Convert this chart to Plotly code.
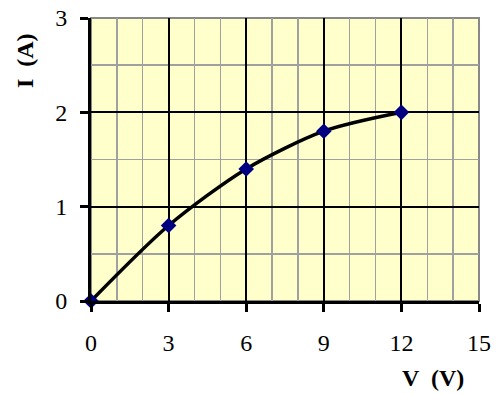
import plotly.graph_objects as go

voltage = [0, 3, 6, 9, 12]
current = [0, 0.8, 1.4, 1.8, 2.0]
x_ticks = [0, 3, 6, 9, 12, 15]
y_ticks = [0, 1, 2, 3]

fig = go.Figure()
fig.add_trace(go.Scatter(
    x=voltage, y=current, mode="lines",
    line=dict(color="black", width=3.5, shape="spline", smoothing=0.8),
    hoverinfo="skip", showlegend=False,
))
fig.add_trace(go.Scatter(
    x=voltage, y=current, mode="markers",
    marker=dict(symbol="diamond", color="#000080", size=12),
    cliponaxis=False, showlegend=False,
))

family = "Liberation Serif, Times New Roman, serif"
font = dict(family=family, size=24, color="black")

fig.update_layout(
    width=500, height=394,
    margin=dict(l=91, r=21, t=18, b=93, autoexpand=False),
    paper_bgcolor="white", plot_bgcolor="#FFFFCC",
    font=font,
    shapes=[dict(type="rect", xref="paper", yref="paper", x0=0, y0=0, x1=1, y1=1,
                 line=dict(color="#888888", width=2), layer="below")],
    annotations=[
        dict(text="<b>I  (A)</b>", xref="paper", yref="paper", x=-0.17, y=0.848,
             xanchor="center", yanchor="middle",
             textangle=-90, showarrow=False, font=dict(size=24, family=family, color="black")),
        dict(text="<b>V  (V)</b>", xref="paper", yref="paper", x=0.881, y=-0.272,
             xanchor="center", yanchor="middle",
             showarrow=False, font=dict(size=24, family=family, color="black")),
    ],
)
fig.update_xaxes(
    range=[0, 15], tickvals=x_ticks, ticktext=[str(v) for v in x_ticks],
    showgrid=True, gridcolor="black", gridwidth=2,
    minor=dict(dtick=1, showgrid=True, gridcolor="#a0a0a0", gridwidth=1.5, ticks=""),
    showline=True, linecolor="black", linewidth=3,
    ticks="outside", ticklen=8, tickwidth=3, tickcolor="black",
    ticklabelstandoff=10,
    zeroline=False, fixedrange=True, automargin=False,
)
fig.update_yaxes(
    range=[0, 3], tickvals=y_ticks, ticktext=[str(v) for v in y_ticks],
    showgrid=True, gridcolor="black", gridwidth=2,
    minor=dict(dtick=0.5, showgrid=True, gridcolor="#a0a0a0", gridwidth=1.5, ticks=""),
    showline=True, linecolor="black", linewidth=3,
    ticks="outside", ticklen=8, tickwidth=3, tickcolor="black",
    ticklabelstandoff=8,
    zeroline=False, fixedrange=True, automargin=False,
)
fig.write_html(
    "out.html",
    config={"displayModeBar": False, "staticPlot": True},
    post_script="document.body.style.margin='0';document.body.style.overflow='hidden';",
)
